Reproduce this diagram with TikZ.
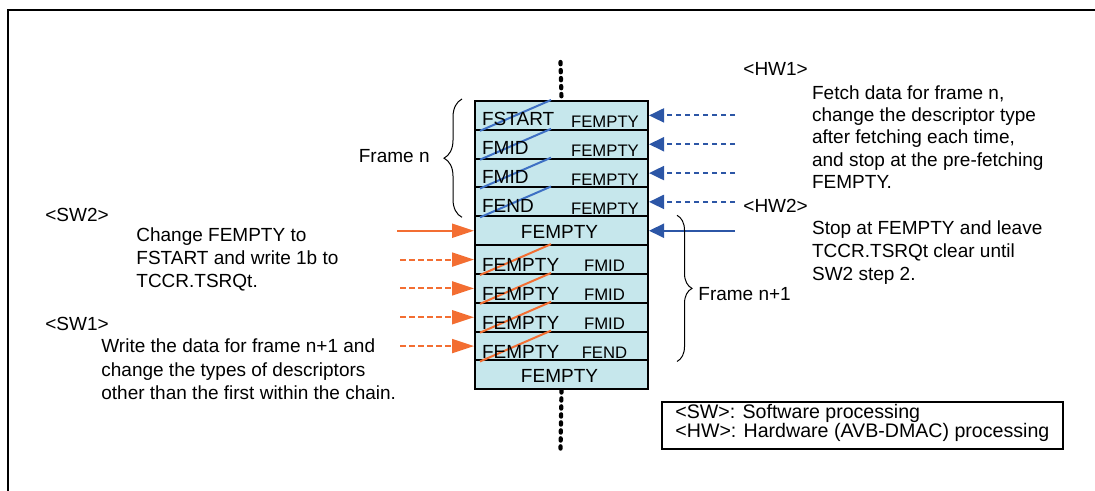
\documentclass[tikz,border=0pt]{standalone}
\usepackage{fontspec}
\setmainfont{Liberation Sans}
\usetikzlibrary{arrows.meta,positioning,calc,decorations.pathreplacing}
\definecolor{descfill}{RGB}{198,231,236}
\definecolor{hwblue}{RGB}{44,86,166}
\definecolor{hwline}{RGB}{62,112,196}
\definecolor{sworange}{RGB}{243,110,50}

\begin{document}
\begin{tikzpicture}[x=0.5pt,y=-0.5pt,
  desc/.style={draw=black, line width=1pt, fill=descfill, minimum width=86.5pt, minimum height=14.42pt, inner sep=0pt},
  big/.style={font=\fontsize{9.5}{#1}\selectfont, inner sep=0pt, align=left},
  big/.default=11.3pt,
  small/.style={font=\fontsize{8.35}{10}\selectfont, inner sep=0pt},
  legtxt/.style={font=\fontsize{9.8}{11}\selectfont, inner sep=0pt},
  hwarr/.style={hwblue, line width=1pt, -{Triangle[length=7.5pt,width=7pt]}},
  swarr/.style={sworange, line width=1pt, -{Triangle[length=11pt,width=7pt]}},
  dsh/.style={dash pattern=on 2.75pt off 1.75pt},
  chain/.style={line width=2.1pt, dash pattern=on 1.15pt off 2.85pt, line cap=round},
  brc/.style={decorate, decoration={brace, amplitude=#1}, line width=0.5pt}]

\useasboundingbox (0,0) rectangle (1095,491);
% outer frame (runs off the page right and bottom)
\draw[line width=1pt] (8,491) -- (8,10) -- (1095,10);

% ===== descriptor chain =====
\def\rh{28.83}
\foreach \i in {1,...,10}
  \node[desc, anchor=north west] (r\i) at (474,{100+(\i-1)*\rh}) {};
\coordinate (chaintop) at (560.5,62);
\coordinate (chainbot) at (560.5,450);
\draw[chain] (chaintop) -- (r1.north);
\draw[chain] (r10.south) -- (chainbot);

% frame n: fetched by HW
\foreach \i/\t in {1/FSTART,2/FMID,3/FMID,4/FEND} {
  \draw[hwline, line width=1pt] ($(r\i.south west)+(6,0)$) -- ($(r\i.north west)+(77,0)$);
  \node[big, anchor=base west] (old\i) at ($(r\i.south west)+(7.7,-5)$) {\t};
  \node[small, anchor=base] (new\i) at ($(r\i.south east)+(-44,-3)$) {FEMPTY};
}
% frame n+1: written by SW
\foreach \i/\t in {6/FMID,7/FMID,8/FMID,9/FEND} {
  \draw[sworange, line width=1pt] ($(r\i.south west)+(6,0)$) -- ($(r\i.north west)+(77,0)$);
  \node[big, anchor=base west] (old\i) at ($(r\i.south west)+(7.7,-3)$) {FEMPTY};
  \node[small, anchor=base] (new\i) at ($(r\i.south east)+(-44.5,-3)$) {\t};
}
\node[big] (stop5) at ($(r5.center)+(-2,1.5)$) {FEMPTY};
\node[big] (stop10) at ($(r10.center)+(-2,1.5)$) {FEMPTY};

% ===== arrows =====
\foreach \i in {1,...,4} {
  \coordinate (hwsrc\i) at ($(r\i.east)+(86,0)$);
  \draw[hwarr, dsh] (hwsrc\i) -- (r\i.east);
}
\coordinate (hwsrc5) at ($(r5.east)+(86,0)$);
\draw[hwarr] (hwsrc5) -- (r5.east);
\coordinate (swsrc5) at ($(r5.west)+(-77,0)$);
\draw[swarr] (swsrc5) -- (r5.west);
\foreach \i in {6,...,9} {
  \coordinate (swsrc\i) at ($(r\i.west)+(-74,0)$);
  \draw[swarr, dsh] (swsrc\i) -- (r\i.west);
}

% ===== braces =====
\draw[brc=9pt] ($(r4.south west)+(-12,0)$) -- ($(r1.north west)+(-12,-1)$);
\node[big, anchor=base east] (framen) at (430,163) {Frame n};
\draw[brc=7.5pt] ($(r5.north east)+(28,0)$) -- ($(r9.south east)+(28,0)$);
\node[big, anchor=base west] (framen1) at (698,300) {Frame n+1};

% ===== HW side (multi-line nodes sit on their last baseline) =====
\node[big, anchor=base west] (hw1lbl) at (743,76) {<HW1>};
\node[big=11.1pt, anchor=base west] (hw1txt) at (811.7,188.3)
  {Fetch data for frame n,\\ change the descriptor type\\ after fetching each time,\\ and stop at the pre-fetching\\ FEMPTY.};
\node[big, anchor=base west] (hw2lbl) at (743,212.7) {<HW2>};
\node[big=11.25pt, anchor=base west] (hw2txt) at (811.7,280)
  {Stop at FEMPTY and leave\\ TCCR.TSRQt clear until\\ SW2 step 2.};

% ===== SW side =====
\node[big, anchor=base west] (sw2lbl) at (45,221.7) {<SW2>};
\node[big=11.4pt, anchor=base west] (sw2txt) at (136,287.3)
  {Change FEMPTY to\\ FSTART and write 1b to\\ TCCR.TSRQt.};
\node[big, anchor=base west] (sw1lbl) at (45,330) {<SW1>};
\node[big=11.65pt, anchor=base west] (sw1txt) at (101,399.3)
  {Write the data for frame n+1 and\\ change the types of descriptors\\ other than the first within the chain.};

% ===== legend =====
\node[draw, line width=1pt, anchor=north west, minimum width=200.5pt, minimum height=23.5pt, inner sep=0pt] (legend) at (661,401) {};
\node[legtxt, anchor=base west] (legsw) at (675,418.3) {<SW>: Software processing};
\node[legtxt, anchor=base west] (leghw) at (675,437.7) {<HW>: Hardware (AVB-DMAC) processing};

\end{tikzpicture}
\end{document}
